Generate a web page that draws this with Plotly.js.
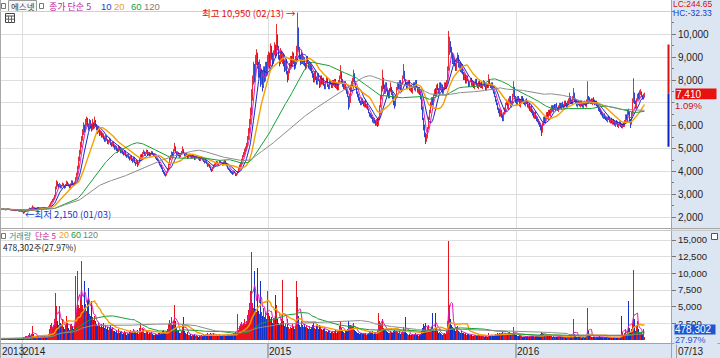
<!DOCTYPE html>
<html><head><meta charset="utf-8">
<script src="https://cdn.plot.ly/plotly-3.0.1.min.js"></script>
<style>html,body{margin:0;padding:0;background:#fff}#chart{width:720px;height:358px}</style>
</head><body><div id="chart"></div>
<script>
// ---- data (daily, index 0 = early Dec 2013) ----
const openP = [
2340,2355,2335,2360,2335,2315,2345,2375,2340,2335,
2315,2295,2325,2285,2305,2275,2315,2285,2275,2255,
2285,2250,2235,2185,2245,2295,2335,2305,2345,2390,
2355,2395,2445,2415,2385,2355,2385,2425,2395,2375,
2345,2385,2415,2385,2425,2395,2375,2405,2455,2515,
2610,2690,2740,2830,2920,3250,3500,3390,3345,3430,
3290,3390,3460,3350,3290,3410,3530,3450,3370,3300,
3430,3560,3470,3390,3530,3690,3860,4160,4520,4790,
5180,5420,5730,5980,5780,6120,6270,6030,5880,6170,
6020,5860,6120,5930,6220,6030,5880,5740,5870,5630,
5720,5530,5620,5460,5340,5520,5380,5230,5310,5420,
5220,5140,5270,5110,4990,5090,4960,4890,5060,4990,
4840,4910,4810,4740,4890,4710,4640,4730,4610,4540,
4660,4510,4440,4610,4390,4340,4460,4290,4390,4560,
4710,4640,4790,4860,4710,4810,4910,4740,4830,4690,
4770,4860,4740,4670,4730,4590,4560,4490,4410,4290,
4260,4160,4040,3960,3890,3840,3960,4110,4310,4560,
4640,4810,4690,4910,5060,4840,4740,4810,4690,4640,
4740,4860,4960,4790,4710,4640,4760,4590,4690,4730,
4660,4590,4710,4640,4540,4610,4690,4610,4560,4490,
4570,4610,4510,4460,4390,4490,4340,4240,4310,4190,
4110,4040,4160,4240,4310,4340,4410,4290,4360,4460,
4390,4360,4290,4410,4460,4340,4260,4140,4110,4040,
3990,3960,3890,4010,3940,3840,3890,3990,4110,4240,
4340,4510,4660,4740,4910,5010,5160,5410,5710,6110,
6500,7250,7950,8450,8250,8800,9100,8650,8350,8600,
8000,8250,7800,8450,8050,8650,8300,8850,9050,8700,
9350,8950,8750,9250,9450,9100,9950,9350,8950,8800,
9250,8850,9050,8750,8450,8800,8350,8050,8450,8550,
8950,8650,9150,8750,8550,8900,9250,10200,9350,9050,
8750,9150,8750,8950,8650,8550,8950,8750,8550,8750,
8550,8350,8250,7950,8350,8050,7850,8250,7950,7750,
8150,7850,8050,7750,7650,7950,8050,7750,7650,7950,
7850,7700,7950,7750,8000,7650,7850,7600,7950,8150,
8300,7950,7750,7650,7900,7550,7450,7250,6950,7050,
7550,7750,8050,8250,7850,7650,7450,7350,7150,7050,
6950,7150,7050,6850,7100,6800,6950,6700,6550,6450,
6450,6350,6150,6300,6200,6050,6300,6000,6300,6850,
7250,7550,8050,7700,7450,7850,7550,7350,7250,7550,
7650,7450,7250,7050,6900,7300,7650,7850,7650,7950,
7550,7850,8100,8350,7950,7850,7650,7850,7950,7550,
7750,7450,7750,7850,7550,7950,7650,7450,7650,7450,
7200,6800,6300,5950,5650,5350,5500,5950,6350,6650,
6950,7150,6950,7350,7550,7350,7750,7600,7450,7850,
7550,7750,7450,7600,7850,7650,7950,8450,9250,9650,
9300,9150,8750,8950,8700,8450,8850,9050,8550,8750,
8350,8650,8300,8050,8250,7850,8150,7950,7750,7950,
8050,7750,7950,7650,7850,8000,7800,7650,7950,7700,
7900,7650,7800,7950,7700,7600,7850,7700,8000,7800,
7650,7850,7550,7450,7250,7100,6950,6750,6700,6450,
6650,6450,6250,6550,6650,6950,7050,6750,7150,7250,
6850,7050,7300,7650,7250,7150,6950,7250,7150,6850,
7000,7250,7150,7050,6900,7150,7050,6800,6950,6650,
6850,6650,6550,6350,6600,6400,6350,6250,6150,6050,
5950,5750,6050,6350,6150,6350,6550,6300,6650,6450,
6650,6850,6650,6900,6700,6950,6750,6650,6800,6950,
6750,7000,6800,6850,7050,6950,6800,6950,7050,7250,
7100,6950,7150,7400,7150,7050,6850,7050,7000,6850,
7050,6950,6800,7050,7000,6850,7050,7250,7200,7000,
7150,6950,7200,7100,6950,7050,6950,6900,6750,6700,
6600,6550,6350,6500,6400,6350,6200,6400,6350,6150,
6300,6100,6250,6150,6000,6200,6150,5950,6100,6150,
6050,5900,6100,5950,6150,6450,6250,6650,6550,6250,
6100,6550,7050,7400,7050,6800,7150,7350,7200,7450,
7450,7300,7200,7300];
const highP = [
2380,2370,2380,2370,2345,2365,2390,2385,2360,2345,
2330,2340,2330,2320,2315,2330,2325,2300,2290,2300,
2295,2265,2240,2260,2320,2360,2345,2375,2420,2400,
2430,2520,2460,2430,2400,2410,2450,2440,2410,2390,
2400,2430,2420,2440,2440,2410,2430,2480,2560,2650,
2720,2800,2860,2980,3350,3620,3560,3450,3500,3440,
3420,3520,3480,3390,3450,3600,3560,3480,3400,3480,
3620,3600,3500,3560,3750,3950,4250,4650,4950,5300,
5550,5850,6150,6050,6300,6400,6350,6100,6300,6250,
6100,6300,6150,6400,6250,6080,5950,5950,5900,5800,
5760,5700,5660,5500,5600,5560,5420,5380,5480,5440,
5260,5320,5300,5150,5150,5120,5000,5150,5100,5020,
4980,4950,4850,4920,4920,4740,4780,4760,4640,4700,
4700,4560,4650,4640,4420,4500,4480,4420,4600,4750,
4760,4850,4950,4880,4850,4960,4940,4860,4850,4820,
4900,4880,4780,4760,4740,4620,4580,4520,4430,4320,
4280,4180,4060,3990,3920,4000,4150,4350,4620,4720,
4880,4850,4980,5250,5100,4880,4860,4850,4740,4800,
4900,5100,4980,4820,4740,4800,4780,4720,4780,4760,
4700,4760,4740,4660,4640,4720,4720,4640,4580,4620,
4650,4640,4540,4480,4520,4510,4360,4340,4330,4220,
4130,4200,4300,4350,4420,4460,4440,4380,4500,4480,
4420,4400,4440,4500,4480,4380,4280,4180,4130,4080,
4020,3990,4050,4030,3960,3920,4020,4150,4300,4400,
4560,4720,4850,5000,5100,5250,5550,5900,6300,6800,
7600,8200,8800,8700,9100,9350,9200,8800,8900,8700,
8500,8400,8600,8600,8800,8800,9100,9250,9200,9600,
9500,9200,9300,9650,9550,10450,10000,9500,9100,9400,
9300,9250,9150,8850,8900,8900,8400,8500,8750,9050,
9050,9250,9200,8900,9050,9500,10950,10300,9450,9100,
9300,9200,9050,9000,8750,9000,9050,8800,8800,8800,
8650,8400,8300,8400,8400,8150,8300,8300,8000,8200,
8200,8100,8100,7850,7950,8150,8100,7800,8000,8000,
7900,8000,8000,8050,8050,7900,7900,8000,8200,8650,
8350,8050,7850,7950,7950,7650,7550,7300,7400,7800,
7950,8100,8450,8300,7950,7700,7500,7400,7250,7100,
7250,7200,7100,7100,7150,6950,7000,6750,6600,6550,
6500,6400,6350,6350,6250,6300,6300,6400,6900,7350,
7750,8450,8100,7800,7900,7900,7600,7450,7650,7900,
7700,7500,7300,7100,7350,7700,7900,7900,8000,8000,
7900,8200,8700,8400,8050,7900,7900,8000,8000,7800,
7800,7750,7900,7900,8000,8000,7700,7700,7700,7500,
7250,6850,6350,6050,5700,5650,5950,6400,6700,7050,
7250,7250,7400,7600,7650,7800,7850,7650,7900,7900,
7850,7800,7700,7900,7900,8000,8600,10150,9900,9700,
9450,9200,9100,9000,8750,8900,9200,9100,8800,8800,
8750,8700,8350,8300,8250,8200,8200,8000,7950,8100,
8100,8000,7950,7900,8050,8050,7850,7950,8000,7900,
7950,7850,8000,7950,7750,7850,7850,8250,8050,7850,
7900,7900,7600,7500,7300,7150,7000,6800,6750,6700,
6700,6500,6600,6800,7000,7150,7100,7200,7300,7300,
7100,7400,7950,7700,7300,7200,7300,7300,7200,7150,
7300,7300,7200,7100,7150,7200,7100,6950,7000,6850,
6900,6700,6600,6600,6650,6450,6400,6300,6200,6100,
6000,6150,6400,6400,6450,6600,6600,6700,6700,6750,
6900,6900,6900,6950,6950,7000,6800,6900,7000,7000,
7000,7050,6950,7100,7100,7000,7100,7200,7450,7300,
7150,7300,7650,7450,7200,7100,7050,7100,7050,7100,
7100,7000,7050,7100,7050,7150,7950,7300,7250,7150,
7200,7200,7250,7150,7100,7100,7000,6950,6800,6750,
6650,6600,6500,6550,6450,6400,6400,6450,6400,6300,
6350,6250,6300,6200,6200,6250,6200,6100,6200,6200,
6100,6100,6150,6250,6500,6500,6700,6750,6600,6300,
6600,7200,8080,7450,7100,7200,7400,7450,7550,7600,
7500,7350,7400,7450];
const lowP = [
2320,2325,2320,2315,2300,2305,2330,2330,2310,2295,
2285,2285,2275,2270,2265,2265,2275,2255,2240,2245,
2235,2215,2150,2175,2230,2285,2295,2295,2330,2340,
2340,2380,2390,2360,2340,2340,2370,2380,2355,2330,
2330,2370,2375,2375,2390,2360,2365,2390,2440,2500,
2590,2660,2720,2800,2900,3220,3340,3280,3300,3260,
3260,3360,3330,3250,3270,3380,3420,3350,3260,3280,
3400,3440,3360,3380,3500,3650,3820,4100,4450,4750,
5050,5350,5600,5700,5750,6000,5950,5800,5850,5900,
5750,5800,5850,5880,5950,5800,5650,5700,5550,5580,
5480,5480,5400,5300,5300,5350,5200,5180,5260,5150,
5080,5100,5050,4950,4960,4900,4820,4860,4930,4800,
4800,4760,4700,4720,4660,4600,4620,4560,4480,4520,
4460,4380,4420,4360,4250,4320,4200,4270,4360,4520,
4600,4620,4760,4680,4680,4780,4720,4700,4660,4660,
4740,4720,4640,4640,4560,4500,4460,4360,4260,4180,
4100,3980,3900,3820,3780,3820,3930,4080,4280,4500,
4600,4650,4680,4880,4800,4700,4700,4660,4600,4620,
4720,4820,4760,4660,4600,4620,4560,4570,4650,4610,
4560,4560,4600,4500,4520,4570,4580,4520,4460,4460,
4540,4480,4420,4350,4370,4320,4200,4220,4160,4050,
3980,4020,4130,4220,4280,4320,4280,4260,4340,4360,
4300,4260,4270,4380,4320,4220,4120,4060,4000,3940,
3900,3850,3880,3920,3800,3800,3860,3960,4080,4200,
4300,4480,4620,4700,4850,4950,5100,5380,5650,6050,
6450,7100,7800,7900,8150,8650,8500,8100,8200,7700,
7800,7500,7650,7900,7950,8150,8200,8600,8500,8600,
8900,8600,8700,9100,9000,9050,9300,8900,8600,8700,
8800,8700,8600,8350,8400,8250,7900,8000,8300,8500,
8600,8600,8700,8450,8500,8800,9200,9300,8900,8650,
8700,8700,8650,8600,8450,8500,8700,8500,8450,8400,
8300,8100,7900,7900,8000,7800,7800,7950,7650,7700,
7800,7800,7750,7600,7600,7900,7700,7600,7600,7800,
7650,7650,7750,7700,7650,7600,7550,7550,7900,8050,
7850,7700,7600,7600,7550,7400,7250,6700,6800,7000,
7500,7700,7900,7850,7650,7400,7250,7100,7000,6900,
6900,6950,6850,6800,6800,6750,6700,6550,6400,6350,
6300,6150,6100,6100,6000,6000,5950,6000,6250,6800,
7150,7500,7600,7400,7400,7500,7350,7200,7200,7500,
7350,7150,6900,6750,6850,7250,7550,7600,7600,7550,
7500,7800,8050,7950,7800,7600,7600,7750,7550,7500,
7450,7400,7650,7550,7500,7650,7450,7400,7350,7150,
6700,6250,5800,5500,5200,5300,5450,5850,6250,6550,
6850,6900,6900,7300,7300,7300,7550,7400,7400,7550,
7500,7400,7400,7550,7600,7600,7900,8400,9100,9200,
8950,8700,8700,8600,8400,8400,8750,8550,8500,8350,
8300,8250,8000,8000,7850,7850,7950,7700,7700,7900,
7750,7700,7650,7600,7800,7750,7650,7600,7700,7650,
7650,7600,7750,7700,7550,7550,7650,7650,7800,7650,
7600,7550,7400,7250,7050,6900,6700,6550,6400,6400,
6350,6200,6200,6500,6600,6900,6750,6700,7000,6850,
6800,7000,7250,7150,7000,6900,6900,7050,6850,6800,
6950,7050,6950,6900,6850,6950,6800,6750,6650,6600,
6550,6450,6350,6300,6300,6200,6150,6050,5950,5800,
5550,5700,6000,6150,6100,6300,6300,6250,6450,6400,
6600,6650,6600,6700,6650,6750,6650,6600,6750,6750,
6700,6800,6750,6800,6850,6800,6750,6900,7000,7000,
6950,6900,7100,7050,6950,6850,6800,6900,6850,6800,
6850,6800,6750,6900,6850,6800,7000,7100,7000,6950,
6950,6900,7000,6900,6900,6850,6800,6650,6600,6500,
6450,6350,6300,6300,6250,6200,6150,6250,6150,6100,
6100,6050,6050,6000,5950,6050,5950,5900,6000,5950,
5900,5880,5950,5950,6100,6250,6200,6450,6150,5900,
6050,6500,7000,6950,6750,6750,7100,7150,7150,7350,
7250,7150,7150,7250];
const closeP = [
2350,2340,2360,2330,2320,2350,2370,2340,2330,2310,
2300,2320,2290,2300,2280,2310,2290,2270,2260,2280,
2250,2230,2190,2240,2300,2330,2310,2350,2380,2360,
2400,2440,2410,2380,2360,2390,2420,2400,2370,2350,
2380,2410,2390,2420,2400,2380,2410,2450,2520,2600,
2680,2750,2820,2900,3250,3480,3400,3350,3420,3300,
3380,3450,3360,3300,3400,3520,3460,3380,3310,3420,
3550,3480,3400,3520,3680,3850,4150,4500,4780,5150,
5400,5700,5950,5800,6100,6250,6050,5900,6150,6000,
5850,6100,5950,6200,6050,5900,5750,5850,5650,5700,
5550,5600,5450,5350,5500,5400,5250,5300,5400,5200,
5150,5250,5100,5000,5080,4950,4900,5050,4980,4850,
4900,4800,4750,4880,4700,4650,4720,4600,4550,4650,
4500,4450,4600,4400,4350,4450,4300,4380,4550,4700,
4650,4780,4850,4720,4800,4900,4750,4820,4700,4780,
4850,4750,4680,4720,4600,4550,4500,4400,4300,4250,
4150,4050,3950,3900,3850,3950,4100,4300,4550,4650,
4800,4700,4900,5050,4850,4750,4800,4700,4650,4750,
4850,4950,4800,4700,4650,4750,4600,4680,4720,4650,
4600,4700,4650,4550,4600,4680,4620,4550,4500,4580,
4600,4520,4450,4400,4480,4350,4250,4300,4200,4100,
4050,4150,4250,4300,4350,4400,4300,4350,4450,4400,
4350,4300,4400,4450,4350,4250,4150,4100,4050,3980,
3950,3900,4000,3950,3850,3880,3980,4100,4250,4350,
4500,4650,4750,4900,5000,5150,5400,5700,6100,6500,
7200,7900,8500,8200,8800,9100,8700,8300,8600,8000,
8200,7800,8400,8100,8600,8300,8800,9000,8700,9300,
9000,8800,9200,9500,9100,9900,9400,9000,8800,9200,
8900,9100,8700,8500,8800,8300,8100,8400,8600,8900,
8700,9100,8800,8600,8900,9300,10300,9400,9000,8800,
9100,8800,8900,8700,8600,8900,8800,8600,8700,8500,
8400,8200,8000,8300,8100,7900,8200,8000,7800,8100,
7900,8000,7800,7700,7900,8000,7800,7700,7900,7850,
7750,7900,7800,7950,7700,7800,7650,7900,8100,8300,
7900,7800,7700,7850,7600,7500,7300,7000,7100,7500,
7800,8000,8200,7900,7700,7500,7300,7200,7100,7000,
7150,7000,6900,7050,6850,6900,6750,6600,6500,6400,
6350,6200,6300,6150,6100,6250,6050,6300,6800,7200,
7600,8000,7700,7500,7800,7600,7400,7300,7500,7700,
7400,7200,7000,6900,7300,7600,7800,7700,7900,7600,
7800,8100,8300,8000,7900,7700,7800,7900,7600,7700,
7500,7700,7800,7600,7900,7700,7500,7600,7400,7200,
6800,6300,5900,5600,5400,5500,5900,6300,6600,6900,
7100,7000,7300,7500,7400,7700,7600,7500,7800,7600,
7700,7500,7600,7800,7700,7900,8400,9200,9600,9300,
9100,8800,8900,8700,8500,8800,9000,8600,8700,8400,
8600,8300,8100,8200,7900,8100,8000,7800,7900,8000,
7800,7900,7700,7850,7950,7800,7700,7900,7750,7850,
7700,7800,7900,7750,7650,7800,7700,8000,7850,7700,
7800,7600,7500,7300,7100,7000,6800,6700,6500,6600,
6400,6300,6500,6700,6900,7000,6800,7100,7200,6900,
7000,7300,7600,7200,7100,7000,7200,7100,6900,7050,
7200,7100,7000,6950,7100,7000,6850,6900,6700,6800,
6600,6500,6400,6550,6350,6300,6200,6100,6000,5900,
5800,6100,6300,6200,6400,6500,6350,6600,6500,6700,
6800,6700,6850,6750,6900,6800,6700,6850,6900,6800,
6950,6850,6900,7000,6900,6850,7000,7100,7200,7050,
7000,7200,7350,7100,7000,6900,7000,6950,6900,7000,
6900,6850,7000,6950,6900,7100,7200,7150,7050,7100,
7000,7150,7050,6950,7000,6900,6850,6700,6650,6550,
6500,6400,6450,6350,6300,6250,6350,6300,6200,6250,
6150,6200,6100,6050,6150,6100,6000,6050,6100,6000,
5950,6050,6000,6200,6400,6300,6600,6500,6200,6100,
6500,7000,7300,7000,6800,7100,7300,7200,7400,7500,
7300,7200,7330,7410];
const volK = [
220,180,300,250,190,160,280,210,170,150,
200,230,180,160,210,260,190,170,240,200,
260,310,520,380,640,560,430,700,1100,620,
900,2100,850,560,480,620,740,530,450,390,
480,620,430,560,410,380,520,900,1600,2200,
2500,1900,2300,3100,7000,5100,2800,2200,5100,2600,
2400,3100,1900,1600,2200,3600,2500,1800,1500,2300,
2400,2000,1600,2200,9600,4200,10300,5200,4800,6100,
11800,5200,4600,8800,5400,4300,6000,7800,3900,3600,
5800,3400,3000,3600,2900,2400,2100,2600,2200,1900,
2400,1900,2600,1800,2300,1700,2000,1500,1900,2200,
1600,1900,1400,1300,1200,1500,1100,1600,1000,1200,
1300,900,1000,1400,1100,800,1000,900,1200,1500,
1100,1300,1600,1400,1200,1000,1500,900,1800,2600,
1400,1800,1600,1100,1000,1500,1200,900,1000,1100,
1200,900,800,700,900,850,800,1000,1100,900,
1000,1300,1500,1100,1000,1200,1600,2400,3000,2600,
3400,2200,2800,5200,2900,1800,1500,1300,1000,1100,
1300,2400,3450,1400,1000,900,1200,800,700,900,
600,800,700,900,600,700,650,500,600,550,
700,600,800,650,700,900,1000,700,800,1100,
900,800,1000,700,650,800,600,700,900,650,
600,550,700,800,600,650,900,700,800,900,
700,800,1100,900,1200,800,3900,1500,2100,2400,
2700,2200,2600,3100,2400,2900,3700,4500,5600,7300,
13200,5600,4800,10300,4600,4200,10800,4400,3900,8800,
4200,3600,4800,3400,4000,3100,7300,4100,3600,3200,
3400,2600,3000,3200,6800,5200,3100,2500,2200,2600,
3200,9000,2800,2100,2400,2000,3100,1900,1700,2000,
1800,2400,2000,1600,2100,8800,6400,3600,2300,2000,
2900,2300,2000,2400,1900,2200,1800,1700,2100,1600,
1900,2300,2600,1800,1700,2100,2400,1600,2300,1900,
1700,1500,1600,1900,1400,1300,1200,1500,1300,1100,
1200,1400,1100,1300,1600,1000,1200,1400,2100,2800,
1800,1300,1200,1100,1500,1400,1600,2800,2200,2300,
1900,2100,2600,1500,1300,1200,1100,1000,900,1100,
1000,900,850,900,1100,800,900,1000,1200,1300,
1100,1300,900,1000,1200,900,1300,4000,2900,2600,
2400,3100,1800,1500,1600,1300,1200,1100,1000,1300,
1200,1100,1400,1500,1300,1400,1200,1000,1300,900,
1000,1300,1900,1200,3500,1100,900,800,900,800,
700,900,800,750,1000,800,700,650,800,900,
1300,1800,2400,2100,2600,1500,1900,2200,1700,1600,
1900,4000,1600,1400,4100,1800,1300,1100,1200,1000,
900,800,850,1000,900,1300,2800,14800,5200,3100,
2300,2000,1800,1600,1400,1900,2100,1400,1200,1100,
1400,1100,1000,900,1100,800,900,850,700,800,
700,650,600,700,800,650,600,750,550,600,
550,600,700,500,550,650,500,1100,700,550,
600,700,650,800,900,750,1000,850,1100,900,
1000,1200,900,800,1100,900,700,1000,1200,800,
700,1000,1900,1100,800,700,650,600,700,550,
600,500,450,500,550,480,600,500,650,550,
600,650,550,500,600,550,650,700,750,900,
1200,1000,900,700,800,750,600,800,650,700,
600,500,550,450,500,480,400,520,450,400,
420,380,400,450,380,350,420,500,700,550,
480,650,3100,900,600,500,450,420,400,380,
350,380,400,350,420,600,4800,1300,700,550,
500,450,480,420,380,400,450,500,550,480,
450,500,420,400,380,450,400,380,420,400,
380,350,400,420,380,400,450,420,380,500,
3600,1200,800,1000,1500,900,1400,5800,1800,1200,
1600,2500,10500,3200,1400,2200,2900,1600,1200,1100,
1200,900,1710,478.302];
const yearLabels = ['2013','2014','2015','2016'];
const yearStart = [0, 21, 267, 515];
const lastDate = '07/13';
const maxDate = '02/13', minDate = '01/03';
const priceTicks = [2000,3000,4000,5000,6000,7000,8000,9000,10000];
const volTicks = [2500,5000,7500,10000,12500,15000];
const priceMA = [5,10,20,60,120];
const volMA = [5,20,60,120];
const sideBar = [9560, 7410, 5080];

// ---- helpers ----
const W=720,H=358;
const px=x=>x/W, py=y=>1-y/H;
const N=closeP.length;
const idx=[...Array(N).keys()];
function sma(a,n){const o=[];let s=0;for(let i=0;i<a.length;i++){s+=a[i];if(i>=n)s-=a[i-n];o.push(s/Math.min(i+1,n));}return o;}
const fmt=v=>Math.round(v).toLocaleString('en-US');
const KR='"Noto Sans CJK KR", sans-serif';
const NUM='"Liberation Sans", Arial, sans-serif';
const NAR='"Liberation Sans Narrow","Liberation Sans", sans-serif';
const PANEL='#dce6f2';

const maCol={5:'#e01cb4',10:'#1428c8',20:'#f5a000',60:'#12a030',120:'#8c8c8c'};
const upC='#e8141e', dnC='#1432c8';
const isUp=i=>closeP[i]>=openP[i];

// candles as 1px high-low strokes, grouped by direction
const traces=[];
[[true,upC],[false,dnC]].forEach(([dir,col])=>{
  const xs=[],ys=[];
  idx.forEach(i=>{if(isUp(i)===dir){xs.push(i,i,null);ys.push(lowP[i],highP[i],null);}});
  traces.push({type:'scatter',mode:'lines',x:xs,y:ys,xaxis:'x',yaxis:'y',line:{color:col,width:1},opacity:0.9,hoverinfo:'skip',showlegend:false});
});
priceMA.forEach(n=>traces.push({type:'scatter',mode:'lines',x:idx,y:sma(closeP,n),xaxis:'x',yaxis:'y',
  line:{color:maCol[n],width:n===20?1.4:1},hoverinfo:'skip',showlegend:false}));
traces.push({type:'bar',x:idx,y:volK,xaxis:'x',yaxis:'y2',width:0.75,
  marker:{color:idx.map(i=>isUp(i)?upC:dnC),line:{width:0}},hoverinfo:'skip',showlegend:false});
volMA.forEach(n=>traces.push({type:'scatter',mode:'lines',x:idx,y:sma(volK,n),xaxis:'x',yaxis:'y2',
  line:{color:maCol[n],width:n===20?1.4:1},hoverinfo:'skip',showlegend:false}));

// derived labels
let maxI=0,minI=0;
for(let i=0;i<N;i++){if(highP[i]>highP[maxI])maxI=i;if(lowP[i]<lowP[minI])minI=i;}
const last=closeP[N-1], prev=closeP[N-2];
const chg=((last-prev)/prev*100).toFixed(2)+'%';
const LC=((last-lowP[minI])/lowP[minI]*100).toFixed(2);
const HC=((last-highP[maxI])/highP[maxI]*100).toFixed(2);
const lastVol=Math.round(volK[N-1]*1000);
const volRatio=(volK[N-1]/volK[N-2]*100).toFixed(2)+'%';
// price tick labels hidden under the last-price box (as in the reference)
const priceTickText=priceTicks.map(v=>(v>last-700&&v<last+220)?'':fmt(v));

const ann=[];
function t(text,x,y,color,size,family,extra){ann.push(Object.assign({text,x:px(x),y:py(y),xref:'paper',yref:'paper',
  xanchor:'left',yanchor:'middle',showarrow:false,borderpad:0,font:{color,size,family}},extra||{}));}
// price legend
t('에스넷',10,6,'#333',8.5,KR);
t('종가 단순 5',48,6,'#c0189a',9,KR);
t('10',100,6,'#1e3cc8',9.5,NAR);
t('20',113,6,'#f0a020',9.5,NAR);
t('60',130,6,'#20a040',9.5,NAR);
t('120',143,6,'#808080',9.5,NAR);
// volume legend
t('거래량',8,235.5,'#17989a',8,KR);
t('단순 5',34,235.5,'#c0189a',8,KR);
t('20',58,235.5,'#f0a020',9,NAR);
t('60',70,235.5,'#20a040',9,NAR);
t('120',82,235.5,'#808080',9,NAR);
t(fmt(lastVol)+'주('+volRatio+')',2,246.5,'#222',8.5,KR);
// right panel
t('LC:'+LC,672,4.2,'#d01010',8.5,NUM);
t('HC:'+HC,672,13.4,'#1040d0',8.5,NUM);
ann.push({text:fmt(last),x:px(675),y:last,xref:'paper',yref:'y',xanchor:'left',yanchor:'middle',showarrow:false,
  font:{color:'#fff',size:10,family:NUM},bgcolor:'#e81010',width:40,height:10,align:'left',borderpad:0});
ann.push({text:chg,x:px(674),y:last,xref:'paper',yref:'y',xanchor:'left',yanchor:'top',yshift:-5.5,showarrow:false,borderpad:0,
  font:{color:'#d01010',size:9.5,family:NUM},bgcolor:PANEL,width:42,height:10,align:'left'});
ann.push({text:fmt(lastVol),x:px(674),y:py(329),xref:'paper',yref:'paper',xanchor:'left',yanchor:'middle',showarrow:false,
  font:{color:'#fff',size:10,family:NUM},bgcolor:'#1f55d0',width:40,height:9,align:'left',borderpad:0});
t(volRatio,674,339.5,'#1f55d0',9,NUM,{bgcolor:PANEL,width:42,height:8,align:'left'});
t(lastDate,677,351,'#222',10,NUM);
// year labels in bottom strip
yearLabels.forEach((s,k)=>ann.push({text:s,x:Math.max(yearStart[k]-0.5,-1.3),y:py(351),xref:'x',yref:'paper',
  xanchor:'left',yanchor:'middle',showarrow:false,borderpad:0,font:{color:'#222',size:10,family:NAR}}));
// extremes
ann.push({text:'최고 '+fmt(highP[maxI])+' ('+maxDate+') →',x:maxI,y:highP[maxI],xref:'x',yref:'y',xanchor:'right',yanchor:'middle',
  xshift:0,showarrow:false,font:{color:'#e01010',size:9.5,family:KR}});
ann.push({text:'←최저 '+fmt(lowP[minI])+' ('+minDate+')',x:minI,y:lowP[minI],xref:'x',yref:'y',xanchor:'left',yanchor:'middle',
  xshift:-1,showarrow:false,font:{color:'#1838d0',size:9.5,family:KR}});

const shapes=[];
const rectP=(x0,y0,x1,y1,o)=>shapes.push(Object.assign({type:'rect',xref:'paper',yref:'paper',x0:px(x0),x1:px(x1),y0:py(y0),y1:py(y1)},o));
const lineP=(x0,y0,x1,y1,c,w)=>shapes.push({type:'line',xref:'paper',yref:'paper',x0:px(x0),x1:px(x1),y0:py(y0),y1:py(y1),line:{color:c,width:w||1}});
rectP(671,0,720,358,{fillcolor:PANEL,line:{width:0},layer:'below'});
rectP(0,344,720,358,{fillcolor:PANEL,line:{width:0},layer:'below'});
lineP(0,343.5,720,343.5,'#9aa4b4');
lineP(671.5,0,671.5,358,'#9aa4b4');
lineP(0,228.5,720,228.5,'#a8a8a8');
lineP(0,230.5,720,230.5,'#c8c8c8');
lineP(0.5,0,0.5,358,'#a8a8a8');
lineP(0,11.5,671,11.5,'#d0d0d0');
lineP(676.5,344,676.5,358,'#9aa4b4');
yearStart.slice(1).forEach(v=>shapes.push({type:'line',xref:'x',yref:'paper',x0:v-0.5,x1:v-0.5,y0:py(358),y1:py(344),line:{color:'#777',width:1}}));
// legend boxes
rectP(1.5,3.5,5.5,8.5,{line:{color:'#777',width:1},fillcolor:'#fff'});
rectP(8.5,0.5,36.5,11.5,{line:{color:'#999',width:1},fillcolor:'#f6f6f6',layer:'below'});
rectP(39.5,3.5,43.5,8.5,{line:{color:'#777',width:1},fillcolor:'#fff'});
rectP(1.5,233.5,5.5,238.5,{line:{color:'#777',width:1},fillcolor:'#fff'});
rectP(5.5,13.5,14.5,22.5,{line:{color:'#444',width:1},fillcolor:'#fff'});
lineP(5.5,16,14.5,16,'#444');lineP(8.5,16,8.5,22.5,'#666');lineP(11.5,16,11.5,22.5,'#666');lineP(5.5,19.2,14.5,19.2,'#666');
rectP(711.5,233.5,717.5,239.5,{line:{color:'#555',width:1},fillcolor:'#fff'});
// side range bar
shapes.push({type:'line',xref:'paper',yref:'y',x0:px(668.5),x1:px(668.5),y0:sideBar[0],y1:sideBar[1],line:{color:'#e01010',width:2}});
shapes.push({type:'line',xref:'paper',yref:'y',x0:px(668.5),x1:px(668.5),y0:sideBar[1],y1:sideBar[2],line:{color:'#1020c0',width:2}});

const xDom=[0,671/W];
const layout={width:W,height:H,margin:{l:0,r:0,t:0,b:0,pad:0},paper_bgcolor:'#fff',plot_bgcolor:'#fff',
  showlegend:false,hovermode:false,bargap:0,
  xaxis:{domain:xDom,range:[-1.5,669.5],tickmode:'array',tickvals:yearStart.slice(1).map(v=>v-0.5),showticklabels:false,ticks:'',
    showgrid:true,gridcolor:'#dedede',gridwidth:1,zeroline:false,fixedrange:true},
  yaxis:{domain:[py(228),py(11.5)],range:[1528,11000],side:'right',anchor:'x',tickmode:'array',tickvals:priceTicks,ticktext:priceTickText,
    ticks:'outside',ticklen:4,tickcolor:'#777',tickfont:{size:10,family:NUM,color:'#222'},gridcolor:'#dedede',zeroline:false,
    showline:false,minor:{tickmode:'linear',tick0:0,dtick:500,ticklen:2,tickcolor:'#777',showgrid:false,ticks:'outside'},fixedrange:true},
  yaxis2:{domain:[py(343),py(231)],range:[-450,16350],side:'right',anchor:'x',tickmode:'array',tickvals:volTicks,tickformat:',d',ticksuffix:'K',
    ticks:'outside',ticklen:4,tickcolor:'#777',tickfont:{size:9.5,family:NUM,color:'#222'},gridcolor:'#dedede',zeroline:false,fixedrange:true},
  annotations:ann,shapes:shapes};
Plotly.newPlot('chart',traces,layout,{staticPlot:true,displayModeBar:false});
</script></body></html>
